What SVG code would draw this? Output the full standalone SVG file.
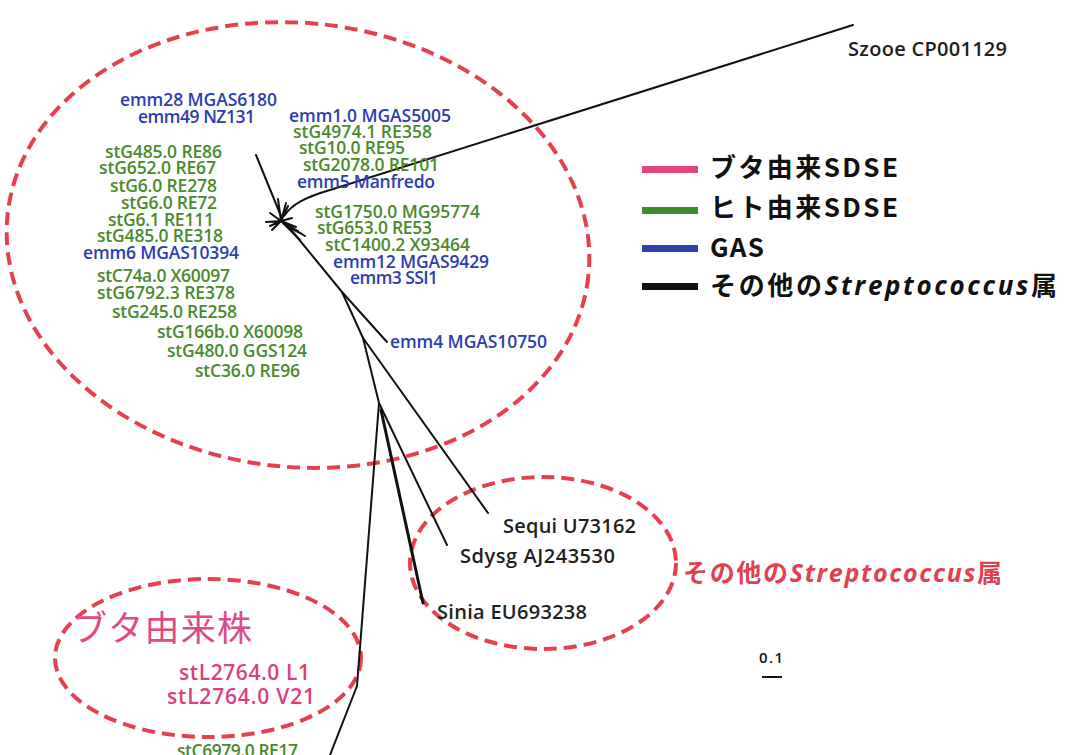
<svg xmlns="http://www.w3.org/2000/svg" width="1065" height="755" viewBox="0 0 1065 755">
<style>
.lbl{font-family:"Open Sans","Noto Sans",sans-serif;font-size:17.5px;font-weight:600}
.big{font-size:20px}
.pk{font-size:21px}
.g{fill:#4a8a2c}
.b{fill:#2d3db0}
.k{fill:#1e1e1e}
.p{fill:#dc3f7e}
.br{fill:none;stroke:#111;stroke-width:2;stroke-linecap:round;stroke-linejoin:round}
.sp{fill:none;stroke:#111;stroke-width:2;stroke-linecap:round}
.ring{fill:none;stroke:#e6404f;stroke-width:4;stroke-dasharray:13 7}
.leg{font-family:"Noto Sans CJK JP",sans-serif;font-size:26px;font-weight:700;fill:#111}
.cjk{font-family:"Noto Sans CJK JP",sans-serif}
.it{font-style:italic;font-family:"Open Sans","Noto Sans",sans-serif}
</style>
<rect width="1065" height="755" fill="#fff"/>

<g id="rings">
<ellipse class="ring" cx="298" cy="245" rx="292" ry="222" transform="rotate(6 298 245)"/>
<ellipse class="ring" cx="543" cy="563" rx="133" ry="86"/>
<ellipse class="ring" cx="208" cy="658" rx="153" ry="79"/>
</g>

<g id="connectors">
<path class="br" d="M256 155 L283 221"/>
<path class="br" d="M284 216 C292 204 306 197 330 190 L853 25"/>
<path class="br" d="M288 226 L342 292 L387 342"/>
<path class="br" d="M342 292 L363 338 L488 513"/>
<path class="br" d="M363 338 L379 403 L447 545"/>
<path class="br" style="stroke-width:3" d="M381 410 L423 603"/>
<path class="br" d="M379 403 L357 686 L330 755"/>
<g id="star">
<path class="sp" d="M281 221 L278 199 M281 221 L288 206 M281 221 L266 222 M281 221 L270 213 M281 221 L272 230 M281 221 L292 218 M281 221 L296 227 M281 221 L305 236 M281 221 L300 240 M281 221 L298 231 M281 221 L270 226 M281 221 L286 203 M285 225 L302 234"/>
</g>
</g>

<g id="gas-sdse-cluster">
<g id="n-emm28"><text class="lbl b" x="120" y="106" textLength="157">emm28 MGAS6180</text></g>
<g id="n-emm49"><text class="lbl b" x="138" y="123" textLength="117">emm49 NZ131</text></g>
<g id="n-stG485-86"><text class="lbl g" x="105" y="158" textLength="117">stG485.0 RE86</text></g>
<g id="n-stG652"><text class="lbl g" x="99" y="174" textLength="117">stG652.0 RE67</text></g>
<g id="n-stG6-278"><text class="lbl g" x="110" y="192" textLength="107">stG6.0 RE278</text></g>
<g id="n-stG6-72"><text class="lbl g" x="121" y="209" textLength="96">stG6.0 RE72</text></g>
<g id="n-stG6-1"><text class="lbl g" x="108" y="226" textLength="106">stG6.1 RE111</text></g>
<g id="n-stG485-318"><text class="lbl g" x="97" y="242" textLength="126">stG485.0 RE318</text></g>
<g id="n-emm6"><text class="lbl b" x="83" y="259" textLength="156">emm6 MGAS10394</text></g>
<g id="n-stC74a"><text class="lbl g" x="97" y="282" textLength="133">stC74a.0 X60097</text></g>
<g id="n-stG6792"><text class="lbl g" x="97" y="299" textLength="138">stG6792.3 RE378</text></g>
<g id="n-stG245"><text class="lbl g" x="112" y="318" textLength="125">stG245.0 RE258</text></g>
<g id="n-stG166b"><text class="lbl g" x="157" y="338" textLength="146">stG166b.0 X60098</text></g>
<g id="n-stG480"><text class="lbl g" x="167" y="357" textLength="140">stG480.0 GGS124</text></g>
<g id="n-stC36"><text class="lbl g" x="195" y="377" textLength="105">stC36.0 RE96</text></g>

<g id="n-emm1"><text class="lbl b" x="289" y="122" textLength="162">emm1.0 MGAS5005</text></g>
<g id="n-stG4974"><text class="lbl g" x="293" y="138" textLength="139">stG4974.1 RE358</text></g>
<g id="n-stG10"><text class="lbl g" x="299" y="154" textLength="106">stG10.0 RE95</text></g>
<g id="n-stG2078"><text class="lbl g" x="303" y="171" textLength="136">stG2078.0 RE101</text></g>
<g id="n-emm5"><text class="lbl b" x="297" y="188" textLength="138">emm5 Manfredo</text></g>
<g id="n-stG1750"><text class="lbl g" x="315" y="218" textLength="165">stG1750.0 MG95774</text></g>
<g id="n-stG653"><text class="lbl g" x="317" y="234" textLength="115">stG653.0 RE53</text></g>
<g id="n-stC1400"><text class="lbl g" x="325" y="251" textLength="145">stC1400.2 X93464</text></g>
<g id="n-emm12"><text class="lbl b" x="333" y="268" textLength="156">emm12 MGAS9429</text></g>
<g id="n-emm3"><text class="lbl b" x="350" y="284" textLength="88">emm3 SSI1</text></g>
<g id="n-emm4"><text class="lbl b" x="390" y="348" textLength="157">emm4 MGAS10750</text></g>
</g>

<g id="other-strep">
<g id="n-szooe"><text class="lbl big k" x="848" y="56" textLength="159">Szooe CP001129</text></g>
<g id="n-sequi"><text class="lbl big k" x="503" y="533" textLength="133">Sequi U73162</text></g>
<g id="n-sdysg"><text class="lbl big k" x="460" y="563" textLength="155">Sdysg AJ243530</text></g>
<g id="n-sinia"><text class="lbl big k" x="437" y="619" textLength="150">Sinia EU693238</text></g>
<g id="lbl-other"><text class="cjk" x="683" y="582" font-size="25" font-weight="700" fill="#e0404f" textLength="319">その他の<tspan class="it">Streptococcus</tspan>属</text></g>
</g>

<g id="pig-cluster">
<g id="lbl-pig"><text class="cjk" x="72" y="641" font-size="35" fill="#df4a85" textLength="180">ブタ由来株</text></g>
<g id="n-stL-L1"><text class="lbl pk p" x="179" y="680" textLength="131">stL2764.0 L1</text></g>
<g id="n-stL-V21"><text class="lbl pk p" x="167" y="704" textLength="148">stL2764.0 V21</text></g>
<g id="n-stC6979"><text class="lbl g" x="177" y="757" textLength="121">stC6979.0 RE17</text></g>
</g>

<g id="legend">
<rect x="642" y="166" width="56" height="7" fill="#e2457a"/>
<rect x="642" y="207" width="56" height="7" fill="#3d8a2a"/>
<rect x="642" y="245" width="56" height="7" fill="#2b3fae"/>
<rect x="642" y="283" width="56" height="7" fill="#111"/>
<text class="leg" x="710" y="177" textLength="188">ブタ由来SDSE</text>
<text class="leg" x="710" y="217" textLength="188">ヒト由来SDSE</text>
<text class="leg" x="710" y="257" textLength="54">GAS</text>
<text class="leg" x="710" y="295" textLength="347">その他の<tspan class="it">Streptococcus</tspan>属</text>
</g>

<g id="scale">
<text x="759" y="663" font-family="'Open Sans','Noto Sans',sans-serif" font-size="15" font-weight="600" fill="#111" textLength="24">0.1</text>
<line x1="762" y1="677" x2="782" y2="677" stroke="#111" stroke-width="2"/>
</g>
</svg>
